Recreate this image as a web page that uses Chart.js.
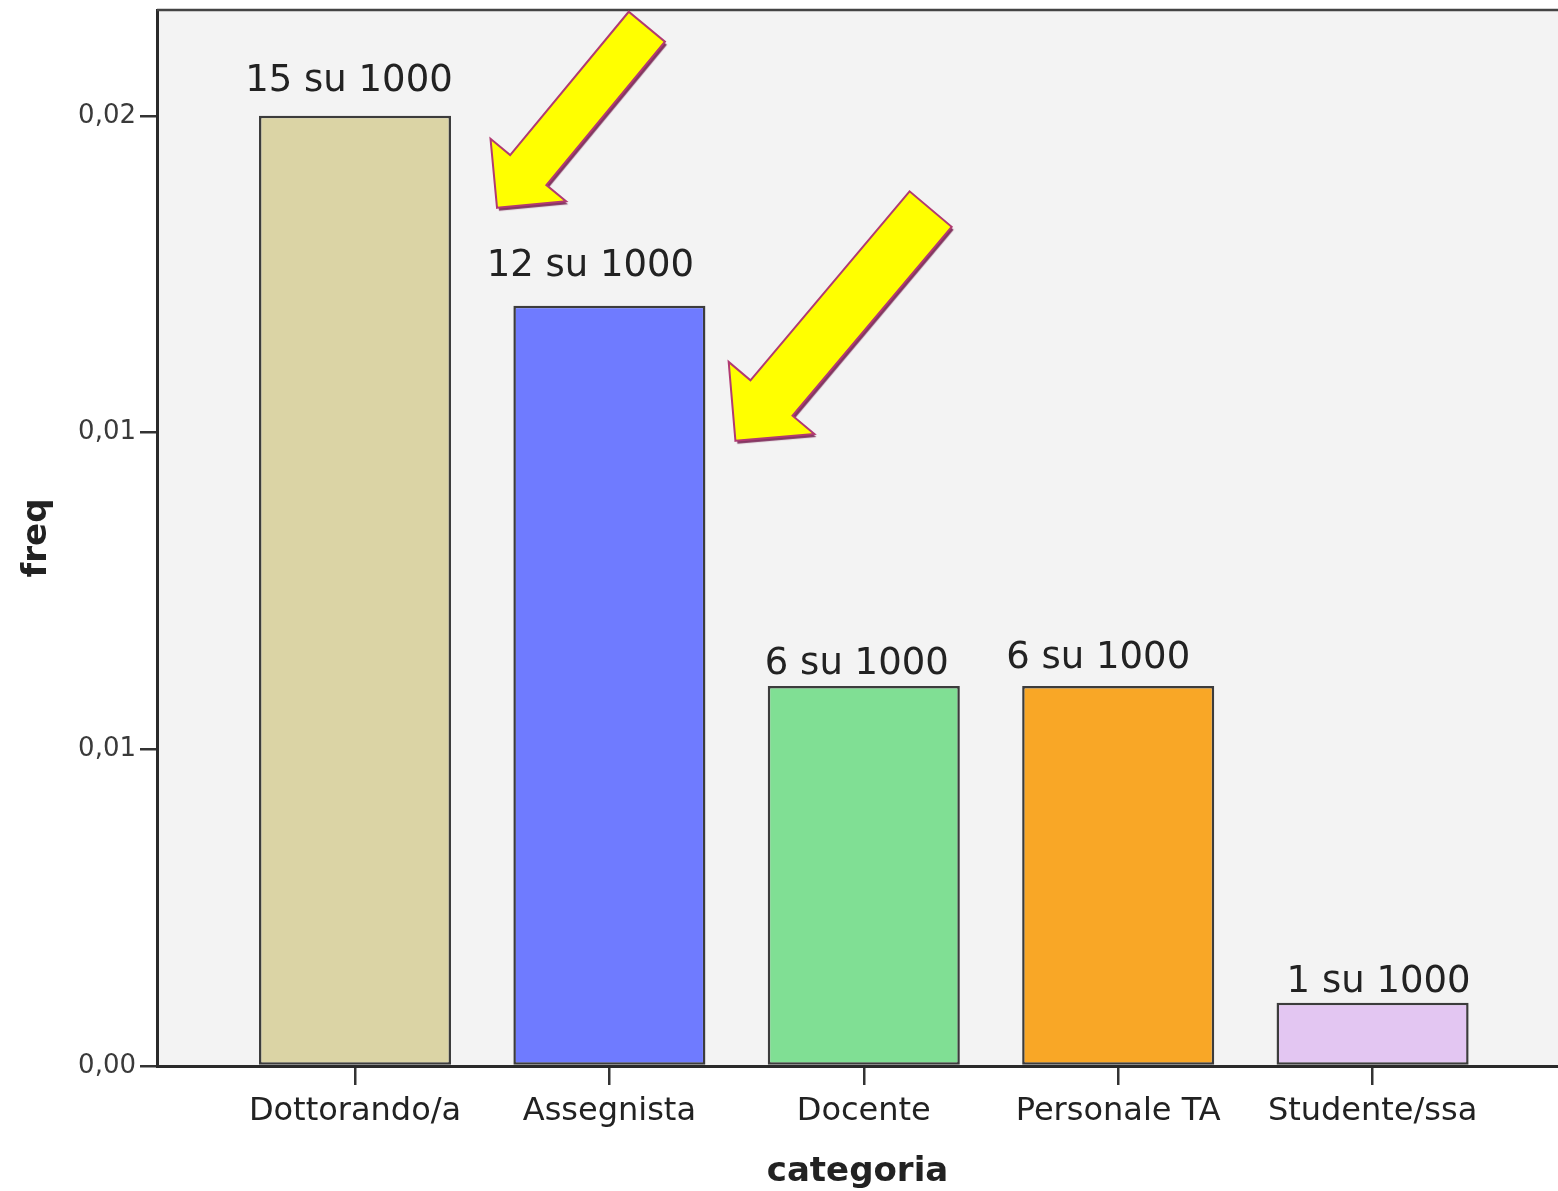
<!DOCTYPE html>
<html>
<head>
<meta charset="utf-8">
<script src="https://cdn.jsdelivr.net/npm/chart.js@4"></script>
<style>
  html, body { margin: 0; padding: 0; background: #ffffff; overflow: hidden; }
  #wrap { width: 1558px; height: 1191px; }
  canvas { display: block; background: #ffffff; }
</style>
</head>
<body>
<div id="wrap"><canvas id="c" width="1558" height="1191"></canvas></div>
<script>
// ---- data ----
const categories = ['Dottorando/a', 'Assegnista', 'Docente', 'Personale TA', 'Studente/ssa'];
const freqValues = [0.015, 0.012, 0.006, 0.006, 0.001];
const barLabels = ['15 su 1000', '12 su 1000', '6 su 1000', '6 su 1000', '1 su 1000'];
const barColors = ['#dbd4a5', '#6f7bff', '#80df94', '#f9a726', '#e3c6f2'];
const yTickValues = [0, 0.005, 0.01, 0.015];
const yTickLabels = ['0,00', '0,01', '0,01', '0,02'];

// ---- annotation styling (placement relative to bars) ----
const labelNudge = [[-6, 25], [-19, 30], [-7, 12], [-20, 18], [6, 11]]; // [dx, gap above bar]
const arrowSpecs = [
  { bar: 0, dx: 46, dy: 92, length: 235, angleDeg: -50.4, shaft: 47, head: 98 },
  { bar: 1, dx: 30, dy: 135, length: 303, angleDeg: -49.9, shaft: 55, head: 112 }
];

const framePlugin = {
  id: 'frame',
  beforeDraw(chart) {
    const { ctx, chartArea: a } = chart;
    ctx.save();
    ctx.fillStyle = '#f3f3f3';
    ctx.fillRect(a.left, a.top, a.right - a.left, a.bottom - a.top);
    ctx.restore();
  },
  afterDatasetsDraw(chart) {
    const { ctx, chartArea: a } = chart;
    const meta = chart.getDatasetMeta(0);
    // top frame line
    ctx.save();
    ctx.strokeStyle = '#444';
    ctx.lineWidth = 2.5;
    ctx.beginPath();
    ctx.moveTo(a.left, a.top);
    ctx.lineTo(a.right, a.top);
    ctx.stroke();
    ctx.restore();
    // bar labels
    ctx.save();
    ctx.font = '37px "DejaVu Sans"';
    ctx.fillStyle = '#222';
    ctx.textAlign = 'center';
    ctx.textBaseline = 'alphabetic';
    meta.data.forEach((bar, i) => {
      const n = labelNudge[i];
      ctx.fillText(barLabels[i], bar.x + n[0], bar.y - n[1]);
    });
    ctx.restore();
    // arrows
    arrowSpecs.forEach(s => {
      const bar = meta.data[s.bar];
      const tx = bar.x + bar.width / 2 + s.dx;
      const ty = bar.y + s.dy;
      const th = s.angleDeg * Math.PI / 180;
      const ux = Math.cos(th), uy = Math.sin(th);
      const nx = -uy, ny = ux;
      const hl = s.head / 2;
      const P = (along, side) => [tx + ux * along + nx * side, ty + uy * along + ny * side];
      const pts = [
        [tx, ty],
        P(hl, s.head / 2),
        P(hl, s.shaft / 2),
        P(s.length, s.shaft / 2),
        P(s.length, -s.shaft / 2),
        P(hl, -s.shaft / 2),
        P(hl, -s.head / 2)
      ];
      ctx.save();
      ctx.beginPath();
      pts.forEach((p, k) => k ? ctx.lineTo(p[0], p[1]) : ctx.moveTo(p[0], p[1]));
      ctx.closePath();
      ctx.shadowColor = 'rgba(110,20,70,0.85)';
      ctx.shadowOffsetX = 2;
      ctx.shadowOffsetY = 3;
      ctx.shadowBlur = 1;
      ctx.fillStyle = '#ffff00';
      ctx.fill();
      ctx.shadowColor = 'rgba(0,0,0,0)';
      ctx.lineWidth = 2;
      ctx.lineJoin = 'miter';
      ctx.strokeStyle = '#b13a72';
      ctx.stroke();
      ctx.restore();
    });
  }
};

new Chart(document.getElementById('c'), {
  type: 'bar',
  data: {
    datasets: [{
      data: categories.map((c, i) => ({ x: i, y: freqValues[i] })),
      backgroundColor: barColors,
      borderColor: '#3c3c3c',
      borderWidth: 2.5,
      borderSkipped: false,
      barPercentage: 0.755,
      categoryPercentage: 1
    }]
  },
  options: {
    responsive: false,
    devicePixelRatio: 1,
    animation: false,
    events: [],
    layout: { padding: { top: 10, left: 0, right: 0, bottom: 0 } },
    plugins: { legend: { display: false }, tooltip: { enabled: false }, title: { display: false } },
    scales: {
      x: {
        type: 'linear',
        min: -0.7783,
        max: 4.7288,
        offset: false,
        afterBuildTicks: (scale) => { scale.ticks = categories.map((c, i) => ({ value: i })); },
        afterFit: (scale) => { scale.height = 125; },
        grid: { offset: false, drawOnChartArea: false, drawTicks: true, tickLength: 19, color: '#333', lineWidth: 2.5 },
        border: { display: true, color: '#2a2a2a', width: 3 },
        ticks: {
          padding: 7,
          color: '#222',
          font: { family: 'DejaVu Sans', size: 32 },
          maxRotation: 0,
          autoSkip: false,
          callback: (v) => categories[v]
        },
        title: {
          display: true,
          text: 'categoria',
          color: '#222',
          font: { family: 'DejaVu Sans', size: 34, weight: 'bold', lineHeight: 1.1 },
          padding: { top: 0, bottom: 0 }
        }
      },
      y: {
        min: 0,
        max: 0.01667,
        afterBuildTicks: (scale) => { scale.ticks = yTickValues.map(v => ({ value: v })); },
        afterFit: (scale) => { scale.width = 157; scale.paddingTop = 0; scale.paddingBottom = 0; },
        grid: { drawOnChartArea: false, drawTicks: true, tickLength: 17, color: '#333', lineWidth: 2.5 },
        border: { display: true, color: '#2a2a2a', width: 3 },
        ticks: {
          padding: 4,
          color: '#3a3a3a',
          font: { family: 'DejaVu Sans', size: 26 },
          callback: (v, i) => yTickLabels[i]
        },
        title: {
          display: true,
          text: 'freq',
          color: '#222',
          font: { family: 'DejaVu Sans', size: 34, weight: 'bold', lineHeight: 1.2 },
          padding: { top: 17, bottom: 0 }
        }
      }
    }
  },
  plugins: [framePlugin]
});
</script>
</body>
</html>
